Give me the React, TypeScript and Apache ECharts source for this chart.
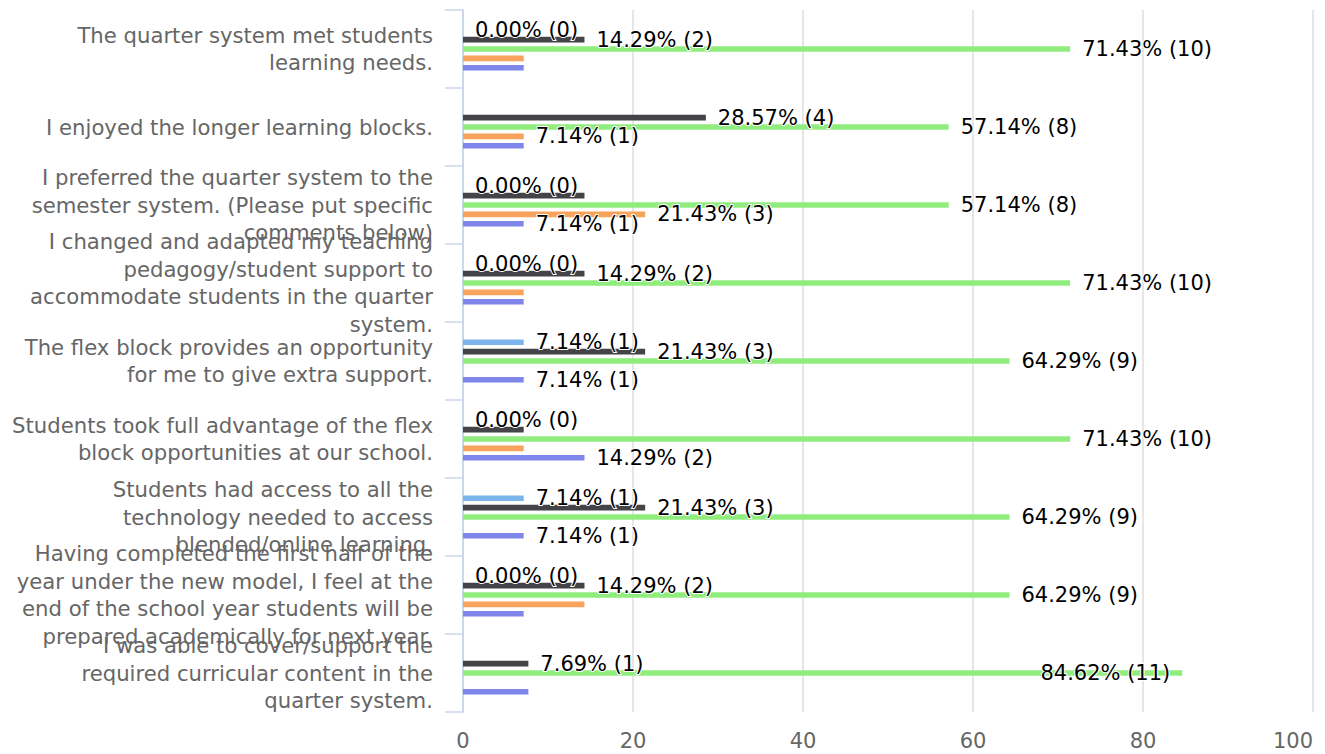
import React, { useEffect, useRef } from "react";
import * as echarts from "echarts";

const categories = [
  "The quarter system met students\nlearning needs.",
  "I enjoyed the longer learning blocks.",
  "I preferred the quarter system to the\nsemester system. (Please put specific\ncomments below)",
  "I changed and adapted my teaching\npedagogy/student support to\naccommodate students in the quarter\nsystem.",
  "The flex block provides an opportunity\nfor me to give extra support.",
  "Students took full advantage of the flex\nblock opportunities at our school.",
  "Students had access to all the\ntechnology needed to access\nblended/online learning.",
  "Having completed the first half of the\nyear under the new model, I feel at the\nend of the school year students will be\nprepared academically for next year.",
  "I was able to cover/support the\nrequired curricular content in the\nquarter system.",
];

const seriesNames = ["Response 1", "Response 2", "Response 3", "Response 4", "Response 5"];
const seriesColors = ["#7cb5ec", "#434348", "#90ed7d", "#f7a35c", "#8085e9"];

const lightBluePct = [0, 0, 0, 0, 7.14, 0, 7.14, 0, 0];
const lightBlueCount = [0, 0, 0, 0, 1, 0, 1, 0, 0];
const lightBlueLabel = [true, false, true, true, true, true, true, true, false];

const darkPct = [14.29, 28.57, 14.29, 14.29, 21.43, 7.14, 21.43, 14.29, 7.69];
const darkCount = [2, 4, 2, 2, 3, 1, 3, 2, 1];
const darkLabel = [true, true, false, true, true, false, true, true, true];

const greenPct = [71.43, 57.14, 57.14, 71.43, 64.29, 71.43, 64.29, 64.29, 84.62];
const greenCount = [10, 8, 8, 10, 9, 10, 9, 9, 11];
const greenLabel = [true, true, true, true, true, true, true, true, true];

const orangePct = [7.14, 7.14, 21.43, 7.14, 0, 7.14, 0, 14.29, 0];
const orangeCount = [1, 1, 3, 1, 0, 1, 0, 2, 0];
const orangeLabel = [false, true, true, false, false, false, false, false, false];

const purplePct = [7.14, 7.14, 7.14, 7.14, 7.14, 14.29, 7.14, 7.14, 7.69];
const purpleCount = [1, 1, 1, 1, 1, 2, 1, 1, 1];
const purpleLabel = [false, false, true, false, true, true, true, false, false];

const xTicks = [0, 20, 40, 60, 80, 100];

const pctSets = [lightBluePct, darkPct, greenPct, orangePct, purplePct];
const countSets = [lightBlueCount, darkCount, greenCount, orangeCount, purpleCount];
const labelSets = [lightBlueLabel, darkLabel, greenLabel, orangeLabel, purpleLabel];

const FONT = "DejaVu Sans";

export default function App() {
  const ref = useRef<HTMLDivElement>(null);
  useEffect(() => {
    if (!ref.current) return;
    const chart = echarts.init(ref.current, null, { renderer: "svg" });
    const series = pctSets.map((pcts, si) => ({
      name: seriesNames[si],
      type: "bar",
      barWidth: 5.6,
      barGap: "67%",
      itemStyle: { color: seriesColors[si] },
      label: {
        show: true,
        position: "right",
        distance: 12,
        fontSize: 21,
        fontFamily: FONT,
        color: "#000000",
        textBorderColor: "#ffffff",
        textBorderWidth: 2,
        formatter: (p: any) => `${pcts[p.dataIndex].toFixed(2)}% (${countSets[si][p.dataIndex]})`,
      },
      data: pcts.map((v, i) => {
        const overflow = v > 80;
        return {
          value: v,
          label: {
            show: labelSets[si][i],
            ...(overflow ? { position: "insideRight", distance: 12 } : {}),
          },
        };
      }),
    }));
    chart.setOption({
      animation: false,
      textStyle: { fontFamily: FONT },
      grid: { left: 463, right: 12, top: 10, bottom: 42, containLabel: false, outerBoundsMode: "none" },
      xAxis: {
        type: "value",
        min: xTicks[0],
        max: xTicks[xTicks.length - 1],
        interval: xTicks[1] - xTicks[0],
        axisLine: { show: false },
        axisTick: { show: false },
        splitLine: { show: true, lineStyle: { color: "#e6e6e6", width: 2 } },
        axisLabel: {
          color: "#666666",
          fontSize: 21,
          fontFamily: FONT,
          margin: 18,
          alignMaxLabel: "right",
        },
      },
      yAxis: {
        type: "category",
        inverse: true,
        data: categories,
        axisLine: { show: true, lineStyle: { color: "#ccd6eb", width: 2 } },
        axisTick: { show: true, length: 18, lineStyle: { color: "#ccd6eb", width: 1.5 } },
        axisLabel: {
          interval: 0,
          margin: 30,
          fontSize: 21.2,
          fontFamily: FONT,
          color: "#666666",
          lineHeight: 27.4,
          align: "right",
        },
      },
      series,
    });
    return () => chart.dispose();
  }, []);
  return (
    <div
      ref={ref}
      style={{ position: "fixed", left: 0, top: 0, width: 1325, height: 754, background: "#fff" }}
    />
  );
}
